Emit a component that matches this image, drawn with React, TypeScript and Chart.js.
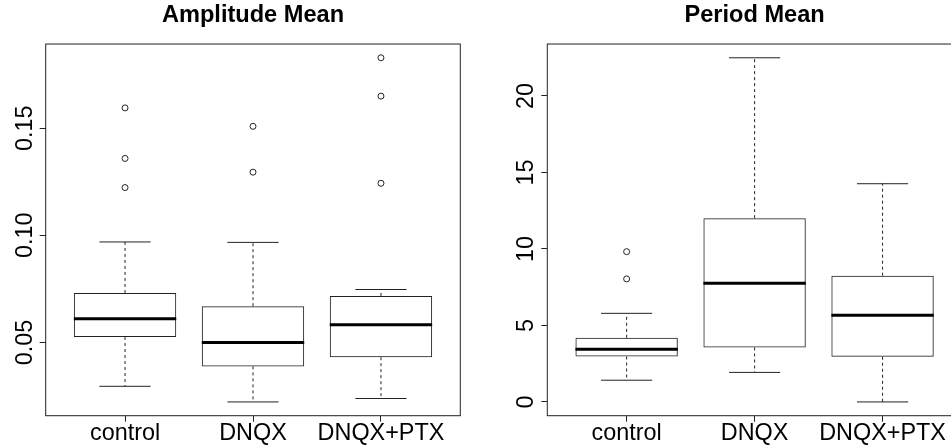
import React, { useEffect, useRef } from "react";
import { Chart, registerables } from "chart.js";

Chart.register(...registerables);

const categories = ["control", "DNQX", "DNQX+PTX"];

// Amplitude Mean
const ampLowerWhisker = [0.0295, 0.0222, 0.0238];
const ampQ1 = [0.0525, 0.0388, 0.0431];
const ampMedian = [0.0611, 0.05, 0.0582];
const ampQ3 = [0.0731, 0.0669, 0.0717];
const ampUpperWhisker = [0.0969, 0.0967, 0.0747];
const ampOutliers = [
  [0.1595, 0.1359, 0.1223],
  [0.1509, 0.1295],
  [0.1829, 0.165, 0.1243],
];
const ampTicks = [0.05, 0.1, 0.15];

// Period Mean
const perLowerWhisker = [1.42, 1.93, 0.0];
const perQ1 = [2.97, 3.56, 2.95];
const perMedian = [3.45, 7.75, 5.66];
const perQ3 = [4.19, 12.01, 8.25];
const perUpperWhisker = [5.79, 22.49, 14.26];
const perOutliers = [[9.82, 8.04], [], []];
const perTicks = [0, 5, 10, 15, 20];

const FONT = "'Liberation Sans', Arial, Helvetica, sans-serif";
const LINE = "#222";

type Stats = {
  title: string;
  lower: number[];
  q1: number[];
  median: number[];
  q3: number[];
  upper: number[];
  outliers: number[][];
  ticks: number[];
  fmt: (v: number) => string;
  yAxisWidth: number;
  rightPad: number;
  yPad: number;
};

function makeConfig(s: Stats): any {
  const all = [...s.lower, ...s.upper, ...s.outliers.flat()];
  const lo = Math.min(...all);
  const hi = Math.max(...all);
  const ext = (hi - lo) * 0.04;
  const xlo = 0.5;
  const xhi = categories.length + 0.5;
  const xext = (xhi - xlo) * 0.04;

  const boxPlugin = {
    id: "boxparts",
    afterDatasetsDraw(chart: any) {
      const ctx = chart.ctx;
      const xs = chart.scales.x;
      const ys = chart.scales.y;
      ctx.save();
      categories.forEach((_, i) => {
        const cx = xs.getPixelForValue(i + 1);
        const halfBox = xs.getPixelForValue(i + 1 + 0.4) - cx;
        const halfCap = halfBox / 2;
        const yLo = ys.getPixelForValue(s.lower[i]);
        const yQ1 = ys.getPixelForValue(s.q1[i]);
        const yMed = ys.getPixelForValue(s.median[i]);
        const yQ3 = ys.getPixelForValue(s.q3[i]);
        const yHi = ys.getPixelForValue(s.upper[i]);
        // dashed whiskers
        ctx.strokeStyle = LINE;
        ctx.lineWidth = 1;
        ctx.setLineDash([3, 3]);
        ctx.beginPath();
        ctx.moveTo(cx, yQ3);
        ctx.lineTo(cx, yHi);
        ctx.moveTo(cx, yQ1);
        ctx.lineTo(cx, yLo);
        ctx.stroke();
        ctx.setLineDash([]);
        // caps
        ctx.beginPath();
        ctx.moveTo(cx - halfCap, yHi);
        ctx.lineTo(cx + halfCap, yHi);
        ctx.moveTo(cx - halfCap, yLo);
        ctx.lineTo(cx + halfCap, yLo);
        ctx.stroke();
        // median
        ctx.strokeStyle = "#000";
        ctx.lineWidth = 3;
        ctx.beginPath();
        ctx.moveTo(cx - halfBox, yMed);
        ctx.lineTo(cx + halfBox, yMed);
        ctx.stroke();
      });
      // frame
      const a = chart.chartArea;
      ctx.strokeStyle = LINE;
      ctx.lineWidth = 1;
      ctx.strokeRect(a.left, a.top, a.right - a.left, a.bottom - a.top);
      ctx.restore();
    },
  };

  const outlierPoints: { x: number; y: number }[] = [];
  s.outliers.forEach((arr, i) => arr.forEach((v) => outlierPoints.push({ x: i + 1, y: v })));

  return {
    type: "bar",
    data: {
      datasets: [
        {
          type: "bar",
          data: categories.map((_, i) => ({ x: i + 1, y: [s.q1[i], s.q3[i]] })),
          backgroundColor: "rgba(255,255,255,0)",
          borderColor: LINE,
          borderWidth: 1,
          borderSkipped: false,
          categoryPercentage: 1,
          barPercentage: 0.8,
        },
        {
          type: "scatter",
          data: outlierPoints,
          pointRadius: 3,
          pointBorderWidth: 1,
          borderColor: LINE,
          backgroundColor: "rgba(255,255,255,0)",
          pointBackgroundColor: "rgba(255,255,255,0)",
          pointBorderColor: LINE,
        },
      ],
    },
    options: {
      responsive: false,
      animation: false,
      devicePixelRatio: 1,
      layout: { padding: { left: 0, right: s.rightPad, top: 0, bottom: 0 } },
      plugins: {
        legend: { display: false },
        tooltip: { enabled: false },
        title: {
          display: true,
          text: s.title,
          fullSize: false,
          color: "#000",
          font: { family: FONT, size: 23.6, weight: "bold" },
          padding: { top: 1.5, bottom: 14.2 },
        },
      },
      scales: {
        x: {
          type: "linear",
          offset: false,
          min: xlo - xext,
          max: xhi + xext,
          afterBuildTicks: (sc: any) => {
            sc.ticks = categories.map((_, i) => ({ value: i + 1 }));
          },
          afterFit: (sc: any) => {
            sc.height = 29.3;
          },
          border: { display: false },
          grid: { offset: false, drawOnChartArea: false, drawTicks: true, tickLength: 6, color: LINE },
          ticks: {
            autoSkip: false,
            maxRotation: 0,
            minRotation: 0,
            padding: -2.5,
            color: "#000",
            font: { family: FONT, size: 23.4 },
            callback: (v: number) => categories[Math.round(v) - 1] ?? "",
          },
        },
        y: {
          type: "linear",
          min: lo - ext,
          max: hi + ext,
          afterBuildTicks: (sc: any) => {
            sc.ticks = s.ticks.map((v) => ({ value: v }));
          },
          afterFit: (sc: any) => {
            sc.width = s.yAxisWidth;
          },
          border: { display: false },
          grid: { drawOnChartArea: false, drawTicks: true, tickLength: 6, color: LINE },
          ticks: {
            minRotation: 90,
            maxRotation: 90,
            crossAlign: "center",
            padding: s.yPad,
            color: "#000",
            font: { family: FONT, size: 23.4 },
            callback: (v: number) => s.fmt(v),
          },
        },
      },
    },
    plugins: [boxPlugin],
  };
}

function BoxChart({ stats, width, height }: { stats: Stats; width: number; height: number }) {
  const ref = useRef<HTMLCanvasElement | null>(null);
  useEffect(() => {
    if (!ref.current) return;
    const chart = new Chart(ref.current, makeConfig(stats));
    return () => chart.destroy();
  }, [stats]);
  return <canvas ref={ref} width={width} height={height} style={{ display: "block" }} />;
}

const ampStats: Stats = {
  title: "Amplitude Mean",
  lower: ampLowerWhisker,
  q1: ampQ1,
  median: ampMedian,
  q3: ampQ3,
  upper: ampUpperWhisker,
  outliers: ampOutliers,
  ticks: ampTicks,
  fmt: (v) => v.toFixed(2),
  yAxisWidth: 45.7,
  rightPad: 14.7,
  yPad: -8.6,
};

const perStats: Stats = {
  title: "Period Mean",
  lower: perLowerWhisker,
  q1: perQ1,
  median: perMedian,
  q3: perQ3,
  upper: perUpperWhisker,
  outliers: perOutliers,
  ticks: perTicks,
  fmt: (v) => String(v),
  yAxisWidth: 72.3,
  rightPad: 13.1,
  yPad: 2.1,
};

export default function App() {
  useEffect(() => {
    document.body.style.margin = "0";
  }, []);
  return (
    <div
      style={{
        position: "absolute",
        left: 0,
        top: 0,
        width: 951,
        height: 445,
        overflow: "hidden",
        background: "#fff",
      }}
    >
      <div style={{ position: "absolute", left: 0, top: 0 }}>
        <BoxChart stats={ampStats} width={475} height={445} />
      </div>
      <div style={{ position: "absolute", left: 475, top: 0 }}>
        <BoxChart stats={perStats} width={500} height={445} />
      </div>
    </div>
  );
}
